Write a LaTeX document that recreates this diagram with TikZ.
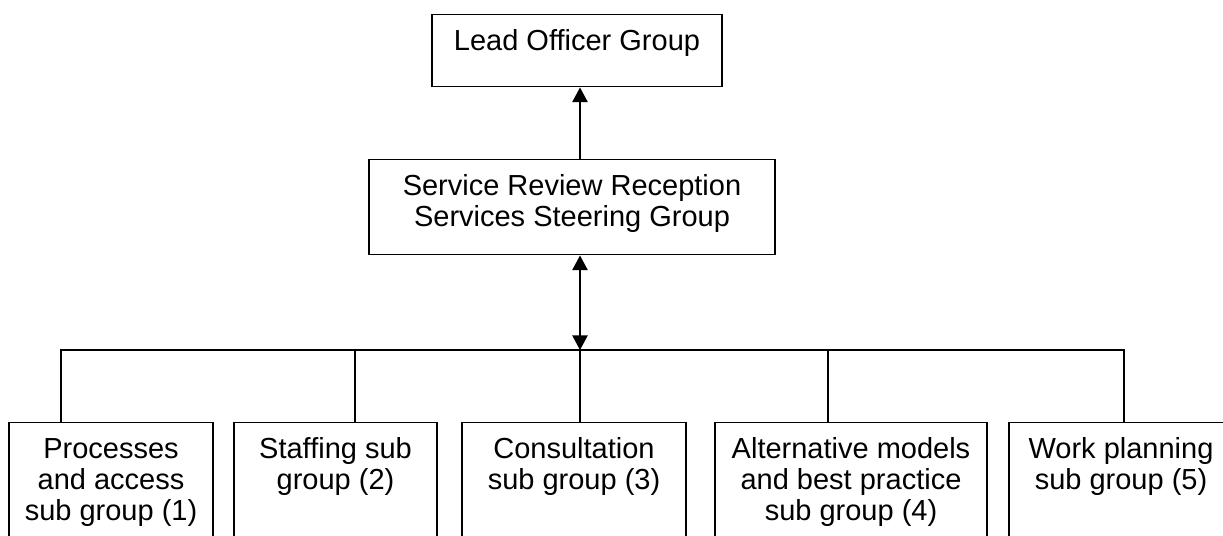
\documentclass[tikz,border=0pt]{standalone}
\usepackage{fontspec}
\setmainfont{Liberation Sans}
\usetikzlibrary{arrows.meta, positioning, calc}

\begin{document}
\begin{tikzpicture}[
  x=0.75pt, y=-0.75pt,
  % Boxes hang from their top edge. A node's base is its last line, so text
  % height reaches up to the top edge (36px above the first baseline, 31px per
  % extra line) and text depth pads each box down to its bottom edge.
  group/.style={
    draw, line width=1.1pt, anchor=north, align=center, inner sep=0pt,
    font=\fontsize{21.75}{23.25}\selectfont, text height=27pt
  },
  tworow/.style={text height=50.25pt},
  threerow/.style={text height=73.5pt},
  link/.style={line width=1.1pt, line join=miter},
  feed/.style={-{Triangle[length=11pt,width=11.5pt]}, line width=1.1pt},
  twoway/.style={{Triangle[length=11pt,width=11.5pt]}-{Triangle[length=11pt,width=11.5pt]},
                 line width=1.1pt}
]

\def\u{0.75pt}   % one pixel of the 1223 x 535 page

\useasboundingbox (0,0) rectangle (1223,535);

% --- the two upper groups ----------------------------------------------------
\node[group, minimum width=290*\u, text depth=27pt] (lead)  at (577,14)
  {Lead Officer Group};
\node[group, tworow, minimum width=406*\u, text depth=21pt] (steer) at (572,159)
  {Service Review Reception\\Services Steering Group};

% --- the five sub groups, running off the bottom of the page -----------------
\node[group, threerow, minimum width=204*\u, text depth=30pt] (sub1) at (111,422)
  {Processes\\and access\\sub group (1)};
\node[group, tworow, minimum width=203*\u, text depth=53.25pt] (sub2) at (335.5,422)
  {Staffing sub\\group (2)};
\node[group, tworow, minimum width=224*\u, text depth=53.25pt] (sub3) at (574,422)
  {Consultation\\sub group (3)};
\node[group, threerow, minimum width=272*\u, text depth=30pt] (sub4) at (851,422)
  {Alternative models\\and best practice\\sub group (4)};
\node[group, tworow, minimum width=224*\u, text depth=53.25pt] (sub5) at (1121,422)
  {Work planning\\sub group (5)};

% --- reporting lines ---------------------------------------------------------
\coordinate (bus) at (580,350);
\draw[feed]   (steer.north -| bus) -- (lead.south -| bus);
\draw[twoway] (steer.south -| bus) -- (bus);

% --- the bus and its taps ----------------------------------------------------
\foreach \i/\xx in {1/61, 2/355, 3/580, 4/828, 5/1124}
  \coordinate (tap\i) at (\xx,350);
\draw[link] (tap1 |- sub1.north) -- (tap1) -- (tap5) -- (tap5 |- sub5.north);
\foreach \i in {2,3,4}
  \draw[link] (tap\i) -- (tap\i |- sub\i.north);

\end{tikzpicture}
\end{document}
